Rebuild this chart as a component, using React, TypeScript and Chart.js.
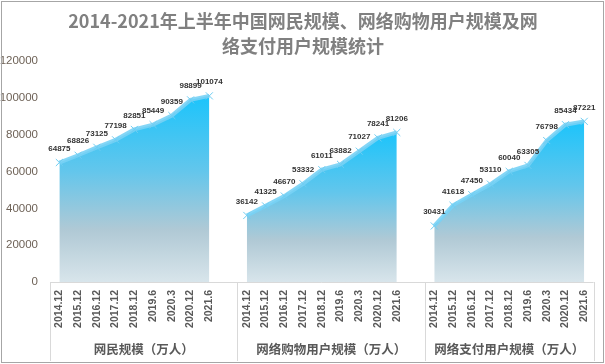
import React, { useEffect, useRef } from "react";
import { Chart, registerables } from "chart.js";

Chart.register(...registerables);

const periods = ["2014.12", "2015.12", "2016.12", "2017.12", "2018.12", "2019.6", "2020.3", "2020.12", "2021.6"];
const groupNames = ["网民规模（万人）", "网络购物用户规模（万人）", "网络支付用户规模（万人）"];
const netizens = [64875, 68826, 73125, 77198, 82851, 85449, 90359, 98899, 101074];
const shoppers = [36142, 41325, 46670, 53332, 61011, 63882, 71027, 78241, 81206];
const payers = [30431, 41618, 47450, 53110, 60040, 63305, 76798, 85434, 87221];
const titleLines = ["2014-2021年上半年中国网民规模、网络购物用户规模及网", "络支付用户规模统计"];
const yTicks = [0, 20000, 40000, 60000, 80000, 100000, 120000];

// categories: 9 + blank + 9 + blank + 9
const labels: string[] = [...periods, "", ...periods, "", ...periods];
const groupStarts = [0, 10, 20];
const groupEnds = [9, 19, 28]; // last category index (inclusive) in each group

function seriesFor(values: number[], start: number): (number | null)[] {
  const arr: (number | null)[] = labels.map(() => null);
  values.forEach((v, i) => (arr[start + i] = v));
  return arr;
}

const seriesList = [netizens, shoppers, payers];

export default function App() {
  const ref = useRef<HTMLCanvasElement | null>(null);
  useEffect(() => {
    document.body.style.margin = "0";
    const canvas = ref.current!;
    const makeGrad = (values: number[]) => (ctx: any) => {
      const chart = ctx.chart;
      const { chartArea, scales } = chart;
      if (!chartArea) return "#4fc3f0";
      const top = scales.y.getPixelForValue(Math.max(...values));
      const bottom = scales.y.getPixelForValue(0);
      const g = chart.ctx.createLinearGradient(0, top, 0, bottom);
      g.addColorStop(0, "#1cc4fb");
      g.addColorStop(0.4, "#62c6ec");
      g.addColorStop(0.72, "#b0c9d5");
      g.addColorStop(1, "#d8e5eb");
      return g;
    };

    const datasets = seriesList.map((vals, k) => ({
      label: groupNames[k],
      data: seriesFor(vals, groupStarts[k]),
      fill: "origin",
      backgroundColor: makeGrad(vals),
      borderColor: "rgba(120,210,245,0.9)",
      borderWidth: 4,
      tension: 0,
      spanGaps: false,
      pointStyle: "crossRot",
      pointRadius: 5,
      pointBorderWidth: 1,
      pointBorderColor: "#6fcdf2",
      pointBackgroundColor: "#6fcdf2",
    }));

    const decor = {
      id: "decor",
      beforeDraw(chart: any) {
        const c = chart.ctx;
        c.save();
        c.fillStyle = "#ffffff";
        c.fillRect(0, 0, chart.width, chart.height);
        c.restore();
      },
      afterDraw(chart: any) {
        const c = chart.ctx;
        const x = chart.scales.x;
        const area = chart.chartArea;
        c.save();
        // title
        c.fillStyle = "#808080";
        c.font = "bold 18px 'Noto Sans CJK SC', 'Liberation Sans', sans-serif";
        c.textAlign = "center";
        c.textBaseline = "middle";
        c.fillText(titleLines[0], 303, 21);
        c.fillText(titleLines[1], 303, 46);
        // data labels
        c.font = "bold 8px 'Liberation Sans', sans-serif";
        c.fillStyle = "#333333";
        chart.data.datasets.forEach((ds: any, di: number) => {
          const meta = chart.getDatasetMeta(di);
          meta.data.forEach((pt: any, i: number) => {
            const v = ds.data[i];
            if (v == null) return;
            c.fillText(String(v), pt.x, pt.y - 14);
          });
        });
        // category axis lines
        const step = (area.right - area.left) / labels.length;
        c.strokeStyle = "#d9d9d9";
        c.lineWidth = 1;
        c.beginPath();
        c.moveTo(area.left, Math.round(area.bottom) + 0.5);
        c.lineTo(area.right, Math.round(area.bottom) + 0.5);
        const bounds = [area.left, ...groupEnds.map((e) => x.getPixelForValue(e) + step / 2)];
        bounds.forEach((bx) => {
          const px = Math.round(bx) + 0.5;
          c.moveTo(px, area.bottom);
          c.lineTo(px, chart.height - 3);
        });
        c.stroke();
        // group labels
        c.fillStyle = "#595959";
        c.font = "bold 12.5px 'Noto Sans CJK SC', sans-serif";
        groupNames.forEach((name, k) => {
          const cx = (bounds[k] + bounds[k + 1]) / 2;
          c.fillText(name, cx, 349);
        });
        // outer border
        c.strokeStyle = "#a6a6a6";
        c.strokeRect(1.5, 1.5, chart.width - 3, chart.height - 3);
        c.restore();
      },
    };

    const chart = new Chart(canvas, {
      type: "line",
      data: { labels, datasets: datasets as any },
      options: {
        animation: false,
        responsive: false,
        maintainAspectRatio: false,
        layout: { padding: { top: 61, right: 10, left: 0, bottom: 0 } },
        plugins: { legend: { display: false }, title: { display: false }, tooltip: { enabled: false } },
        scales: {
          x: {
            type: "category",
            offset: true,
            grid: { display: false, drawTicks: false },
            border: { display: false },
            ticks: {
              autoSkip: false,
              minRotation: 90,
              maxRotation: 90,
              padding: 8,
              color: "#595959",
              font: { size: 10.5, weight: "bold", family: "'Liberation Sans', sans-serif" },
            },
            afterFit: (s: any) => {
              s.height = 82;
            },
          },
          y: {
            min: 0,
            max: 120000,
            grid: { display: false, drawTicks: false },
            border: { display: false },
            afterBuildTicks: (s: any) => {
              s.ticks = yTicks.map((v) => ({ value: v }));
            },
            ticks: {
              padding: 12,
              color: "#6e6257",
              font: { size: 11.5, family: "'Liberation Sans', sans-serif" },
              callback: (v: any) => String(v),
            },
            afterFit: (s: any) => {
              s.width = 50;
            },
          },
        },
      },
      plugins: [decor],
    });
    return () => chart.destroy();
  }, []);
  return (
    <div style={{ position: "absolute", left: 0, top: 0, width: 605, height: 364 }}>
      <canvas ref={ref} width={605} height={364} style={{ width: 605, height: 364 }} />
    </div>
  );
}
